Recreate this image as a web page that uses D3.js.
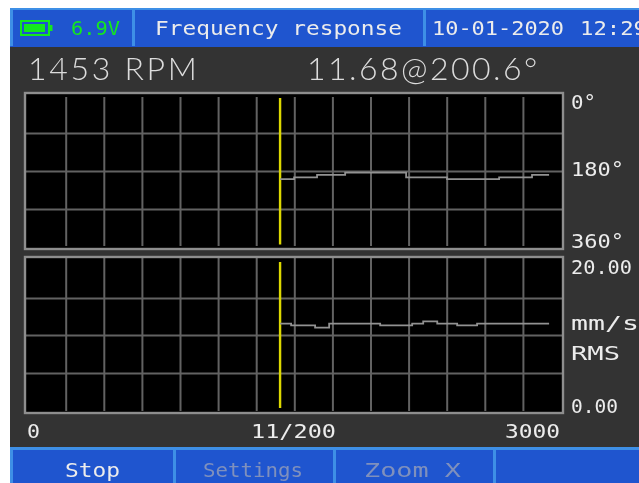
<!DOCTYPE html>
<html><head><meta charset="utf-8">
<script src="https://cdn.jsdelivr.net/npm/d3@7"></script>
<style>
html,body{margin:0;padding:0;background:#fff;overflow:hidden}
svg{display:block;filter:blur(0.45px)}
text{font-family:"DejaVu Sans Mono",monospace;fill:#ececec}
</style></head><body><div id="c"></div>
<script>
const title = "Frequency response";
const batteryText = "6.9V";
const dateText = "10-01-2020";
const timeText = "12:29";
const rpmText = "1453 RPM";
const readoutText = "11.68@200.6°";
const softKeys = ["Stop", "Settings", "Zoom X"];
const xLabels = ["0", "11/200", "3000"];
const phaseLabels = ["0°", "180°", "360°"];
const ampLabels = ["20.00", "0.00"];
const unitLabels = ["mm/s", "RMS"];
const cursorFreq = 1420;
const xMax = 3000;
const xCells = 14;
const phaseFreqs = [1420,1499,1628,1786,2129,2359,2652,2837,2933];
const phaseValues = [199,195,189,184,195,199,195,189,189];
const ampFreqs = [1420,1482,1617,1696,1983,2163,2225,2304,2416,2528,2933];
const ampValues = [11.47,11.26,10.95,11.47,11.26,11.47,11.78,11.47,11.26,11.47,11.47];

const W = 639, H = 483;
const svg = d3.select("#c").append("svg").attr("width", W).attr("height", H);
const BLUE = "#1f55cf", EDGE = "#3e8fe6", PANEL = "#333333", GRID = "#626262", BORDER = "#8e8e8e", TRACE = "#929292";

svg.append("rect").attr("x",10).attr("y",8).attr("width",W-10).attr("height",H-8).attr("fill",PANEL);

// header bar
svg.append("rect").attr("x",10).attr("y",8).attr("width",W-10).attr("height",39).attr("fill",BLUE);
svg.append("rect").attr("x",10).attr("y",8).attr("width",W-10).attr("height",2).attr("fill",EDGE);
[10,132,423].forEach(x=>svg.append("rect").attr("x",x).attr("y",8).attr("width",3).attr("height",38).attr("fill",EDGE));
// footer bar
svg.append("rect").attr("x",10).attr("y",447).attr("width",W-10).attr("height",36).attr("fill",BLUE);
svg.append("rect").attr("x",10).attr("y",447).attr("width",W-10).attr("height",3).attr("fill",EDGE);
[10,173,333,493].forEach(x=>svg.append("rect").attr("x",x).attr("y",447).attr("width",3).attr("height",36).attr("fill",EDGE));

// battery icon
const G = "#14e81e";
svg.append("rect").attr("x",21).attr("y",21).attr("width",28).attr("height",14).attr("fill","none").attr("stroke",G).attr("stroke-width",2);
svg.append("rect").attr("x",24).attr("y",24).attr("width",21).attr("height",8).attr("fill",G);
svg.append("rect").attr("x",49).attr("y",25).attr("width",3.5).attr("height",6).attr("fill",G);

function label(str,x,y,width,fill){
  const t = svg.append("text").attr("x",x).attr("y",y).attr("font-size",19).text(str)
    .attr("textLength",width).attr("lengthAdjust","spacingAndGlyphs");
  if(fill) t.style("fill",fill);
  return t;
}
function bigLabel(str,x,spacing){
  svg.append("text").attr("x",x).attr("y",80).attr("font-size",32).text(str)
    .style("font-family",'"Lato","Open Sans",sans-serif').style("font-weight",300)
    .style("fill","#dcdcdc").style("letter-spacing",spacing+"px");
}
label(batteryText,71,35,49,G);
label(title,155,35,247);
label(dateText,432,35,132);
label(timeText,580,35,67);
bigLabel(rpmText,28,2.7);
bigLabel(readoutText,307,2.45);

// plots
const x = d3.scaleLinear().domain([0,xMax]).range([27.6,561]);
const plots = [
 {top:94,bot:248,dom:[0,360],hs:[133,171,209],freqs:phaseFreqs,vals:phaseValues,vt:97,vb:246,ct:98,cb:244.5},
 {top:258,bot:412,dom:[20,0],hs:[298,335,373],freqs:ampFreqs,vals:ampValues,vt:258,vb:411,ct:262,cb:408}
];
const xTicks = d3.range(1,xCells).map(i=>i*xMax/xCells);
plots.forEach(p=>{
  const y = d3.scaleLinear().domain(p.dom).range([p.top,p.bot]);
  svg.append("rect").attr("x",25).attr("y",p.top-1).attr("width",538).attr("height",p.bot-p.top+2)
     .attr("fill","#000");
  const hVals = p.hs.map(v=>y.invert(v));
  const gy = svg.append("g").attr("transform","translate(25,0)")
     .call(d3.axisRight(y).tickValues(hVals).tickSize(538).tickFormat(""));
  gy.select(".domain").remove();
  gy.selectAll("line").attr("stroke",GRID).attr("stroke-width",2);
  const gx = svg.append("g").attr("transform",`translate(0,${p.vb})`)
     .call(d3.axisTop(x).tickValues(xTicks).tickSize(p.vb-p.vt).tickFormat(""));
  gx.select(".domain").remove();
  gx.selectAll("line").attr("stroke",GRID).attr("stroke-width",2);
  svg.append("rect").attr("x",25).attr("y",p.top-1).attr("width",538).attr("height",p.bot-p.top+2)
     .attr("fill","none").attr("stroke",BORDER).attr("stroke-width",2.4);
  svg.append("line").attr("x1",x(cursorFreq)).attr("x2",x(cursorFreq)).attr("y1",p.ct).attr("y2",p.cb)
     .attr("stroke","#dcd800").attr("stroke-width",2.4);
  const line = d3.line().x((d,i)=>x(p.freqs[i])).y(d=>y(d)).curve(d3.curveStepAfter);
  svg.append("path").datum(p.vals).attr("d",line).attr("fill","none").attr("stroke",TRACE).attr("stroke-width",1.8);
});

// labels
label(xLabels[0],27,438,13);
label(xLabels[1],251,438,85);
label(xLabels[2],505,438,55);
label(phaseLabels[0],571,109,25);
label(phaseLabels[1],571,176,53);
label(phaseLabels[2],571,248,53);
label(ampLabels[0],571,274,61);
label(ampLabels[1],571,413,47);
label(unitLabels[0],571,330,68);
label(unitLabels[1],571,360,49);

label(softKeys[0],65,477,55);
label(softKeys[1],203,477,100,"#7f90bd");
label(softKeys[2],364,477,97,"#7f90bd");
</script></body></html>
